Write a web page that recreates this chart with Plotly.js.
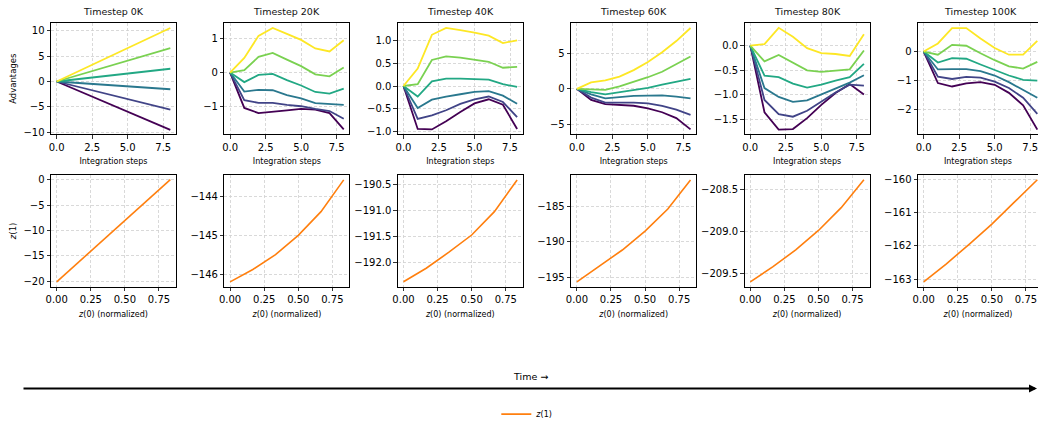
<!DOCTYPE html>
<html>
<head>
<meta charset="utf-8">
<script src="https://cdn.plot.ly/plotly-3.0.1.min.js"></script>
<style>html,body{margin:0;padding:0;background:#fff;overflow:hidden}</style>
</head>
<body>
<div id="chart" style="width:1038px;height:429px"></div>
<script>
// ---- data ----
const timesteps = ["Timestep 0K", "Timestep 20K", "Timestep 40K", "Timestep 60K", "Timestep 80K", "Timestep 100K"];
const steps = [0, 1, 2, 3, 4, 5, 6, 7, 8];
const seriesColors = ["#440154", "#414487", "#2a788e", "#22a884", "#7ad151", "#fde725"];

// advantages per timestep, series ordered purple -> yellow
const adv0K = [
  [0, -1.2, -2.4, -3.55, -4.75, -5.95, -7.1, -8.3, -9.5],
  [0, -0.7, -1.4, -2.05, -2.75, -3.45, -4.1, -4.8, -5.5],
  [0, -0.2, -0.4, -0.55, -0.75, -0.95, -1.15, -1.35, -1.52],
  [0, 0.3, 0.6, 0.9, 1.25, 1.55, 1.9, 2.2, 2.5],
  [0, 0.8, 1.6, 2.4, 3.25, 4.1, 4.9, 5.7, 6.55],
  [0, 1.3, 2.6, 3.9, 5.2, 6.55, 7.9, 9.2, 10.5]
];
const adv20K = [
  [0, -1.04, -1.19, -1.14, -1.11, -1.07, -1.09, -1.19, -1.67],
  [0, -0.81, -0.89, -0.89, -0.95, -0.99, -1.07, -1.13, -1.36],
  [0, -0.56, -0.51, -0.52, -0.66, -0.76, -0.90, -0.93, -0.95],
  [0, -0.28, -0.07, -0.04, -0.22, -0.38, -0.57, -0.62, -0.47],
  [0, 0.07, 0.46, 0.58, 0.38, 0.19, -0.05, -0.11, 0.15],
  [0, 0.43, 1.08, 1.31, 1.14, 0.96, 0.71, 0.62, 0.95]
];
const adv40K = [
  [0, -0.94, -0.95, -0.77, -0.57, -0.38, -0.29, -0.41, -0.94],
  [0, -0.72, -0.64, -0.53, -0.39, -0.29, -0.23, -0.35, -0.68],
  [0, -0.48, -0.30, -0.23, -0.18, -0.13, -0.11, -0.21, -0.39],
  [0, -0.23, 0.10, 0.16, 0.16, 0.15, 0.14, 0.04, -0.02],
  [0, 0.04, 0.57, 0.65, 0.62, 0.58, 0.53, 0.40, 0.42],
  [0, 0.38, 1.12, 1.27, 1.22, 1.17, 1.10, 0.94, 1.00]
];
const adv60K = [
  [0, -1.57, -2.17, -2.26, -2.40, -2.76, -3.32, -4.15, -5.76],
  [0, -1.24, -1.94, -1.89, -1.94, -2.07, -2.40, -2.95, -3.69],
  [0, -0.78, -1.34, -1.15, -1.00, -0.97, -0.92, -1.10, -1.34],
  [0, -0.46, -0.78, -0.46, -0.18, 0.14, 0.60, 1.06, 1.43],
  [0, -0.05, -0.14, 0.37, 0.97, 1.66, 2.44, 3.50, 4.60],
  [0, 0.92, 1.20, 1.75, 2.67, 3.82, 5.20, 6.80, 8.66]
];
const adv80K = [
  [0, -1.35, -1.70, -1.69, -1.47, -1.20, -0.96, -0.78, -0.99],
  [0, -1.10, -1.39, -1.44, -1.32, -1.14, -0.95, -0.79, -0.81],
  [0, -0.86, -1.04, -1.14, -1.11, -0.99, -0.86, -0.75, -0.60],
  [0, -0.61, -0.64, -0.77, -0.85, -0.79, -0.71, -0.64, -0.37],
  [0, -0.32, -0.19, -0.35, -0.50, -0.53, -0.51, -0.48, -0.10],
  [0, 0.03, 0.36, 0.18, -0.05, -0.15, -0.17, -0.21, 0.23]
];
const adv100K = [
  [0, -1.09, -1.21, -1.10, -1.06, -1.15, -1.43, -1.86, -2.70],
  [0, -0.87, -0.95, -0.88, -0.90, -1.04, -1.26, -1.60, -2.16],
  [0, -0.62, -0.61, -0.61, -0.68, -0.83, -1.06, -1.32, -1.60],
  [0, -0.38, -0.23, -0.25, -0.45, -0.64, -0.83, -0.98, -1.01],
  [0, -0.11, 0.23, 0.20, -0.06, -0.30, -0.51, -0.59, -0.36],
  [0, 0.28, 0.81, 0.81, 0.45, 0.12, -0.11, -0.11, 0.37]
];
const advantages = [adv0K, adv20K, adv40K, adv60K, adv80K, adv100K];

const z0 = [0, 0.1667, 0.3333, 0.5, 0.6667, 0.8333];
const z1_0K = [-20.1, -16.1, -12.05, -8.0, -4.0, 0.0];
const z1_20K = [-146.2, -145.88, -145.5, -145.0, -144.39, -143.57];
const z1_40K = [-192.38, -192.12, -191.81, -191.48, -191.03, -190.42];
const z1_60K = [-195.64, -193.45, -191.16, -188.5, -185.4, -181.3];
const z1_80K = [-209.6, -209.42, -209.22, -208.99, -208.72, -208.39];
const z1_100K = [-163.09, -162.54, -161.95, -161.34, -160.67, -160.0];
const z1 = [z1_0K, z1_20K, z1_40K, z1_60K, z1_80K, z1_100K];

// ---- layout helpers ----
const W = 1038, H = 429;
const topRanges = [[-10.4, 11.5], [-1.82, 1.46], [-1.06, 1.38], [-6.48, 9.38], [-1.80, 0.46], [-2.87, 0.99]];
const topDticks = [5, 1, 0.5, 5, 0.5, 1];
const topFormats = ["d", "d", ".1f", "d", ".1f", "d"];
const botRanges = [[-21.1, 0.95], [-146.33, -143.44], [-192.48, -190.32], [-196.36, -180.58], [-209.66, -208.33], [-163.24, -159.85]];
const botDticks = [5, 1, 0.5, 5, 0.5, 1];
const botFormats = ["d", "d", ".1f", "d", ".1f", "d"];

const font = "DejaVu Sans, Arial, sans-serif";
const common = {
  showline: true, mirror: true, linecolor: "#000", linewidth: 1,
  ticks: "outside", ticklen: 3.5, tickwidth: 0.8, tickcolor: "#000",
  showgrid: true, gridcolor: "#cfcfcf", griddash: "3px,2px", gridwidth: 0.8,
  zeroline: false, tickfont: {family: font, size: 10, color: "#000"},
  ticklabeloverflow: "allow", fixedrange: true
};

const traces = [];
const layout = {
  width: W, height: H, autosize: false,
  margin: {l: 0, r: 0, t: 0, b: 0},
  paper_bgcolor: "#fff", plot_bgcolor: "#fff",
  font: {family: font, color: "#000"},
  showlegend: true,
  legend: {x: 0.508, xanchor: "center", y: 1 - 421 / H, yanchor: "middle",
           orientation: "h", font: {family: font, size: 8}, bgcolor: "rgba(0,0,0,0)"},
  annotations: [], shapes: []
};

const pw = 125, step = 173.4, left0 = 51;
const topY = [1 - 136.7 / H, 1 - 23.3 / H];
const botY = [1 - 291.7 / H, 1 - 177.7 / H];

for (let k = 0; k < 6; k++) {
  const L = left0 + k * step;
  let R = L + pw;
  let xr = [-0.4, 8.4], zr = [-0.0417, 0.875];
  if (R > W) {
    const frac = (W - L) / pw;
    xr = [-0.4, -0.4 + 8.8 * frac];
    zr = [-0.0417, -0.0417 + 0.9167 * frac];
    R = W;
  }
  const dom = [L / W, R / W];
  const ti = k + 1, bi = k + 7;
  const tx = "xaxis" + (ti === 1 ? "" : ti), ty = "yaxis" + (ti === 1 ? "" : ti);
  const bx = "xaxis" + bi, by = "yaxis" + bi;

  layout[tx] = Object.assign({}, common, {
    domain: dom, anchor: "y" + (ti === 1 ? "" : ti), range: xr,
    tickvals: [0, 2.5, 5, 7.5], tickformat: ".1f",
    title: {text: "Integration steps", font: {family: font, size: 8}, standoff: 6}
  });
  layout[ty] = Object.assign({}, common, {
    domain: topY, anchor: "x" + (ti === 1 ? "" : ti), range: topRanges[k],
    dtick: topDticks[k], tickformat: topFormats[k],
    title: k === 0 ? {text: "Advantages", font: {family: font, size: 8.5}, standoff: 5} : {text: ""}
  });
  layout[bx] = Object.assign({}, common, {
    domain: dom, anchor: "y" + bi, range: zr,
    tickvals: [0, 0.25, 0.5, 0.75], tickformat: ".2f",
    title: {text: "<i>z</i>(0) (normalized)", font: {family: font, size: 8}, standoff: 6}
  });
  layout[by] = Object.assign({}, common, {
    domain: botY, anchor: "x" + bi, range: botRanges[k],
    dtick: botDticks[k], tickformat: botFormats[k],
    title: k === 0 ? {text: "<i>z</i>(1)", font: {family: font, size: 8.5}, standoff: 5} : {text: ""}
  });

  const data = advantages[k];
  for (let s = 0; s < data.length; s++) {
    traces.push({
      type: "scatter", mode: "lines", x: steps, y: data[s],
      xaxis: "x" + (ti === 1 ? "" : ti), yaxis: "y" + (ti === 1 ? "" : ti),
      line: {color: seriesColors[s], width: 1.8}, showlegend: false, hoverinfo: "skip"
    });
  }
  traces.push({
    type: "scatter", mode: "lines", x: z0, y: z1[k],
    xaxis: "x" + bi, yaxis: "y" + bi, name: "<i>z</i>(1)",
    line: {color: "#ff7f0e", width: 1.6}, showlegend: k === 0, hoverinfo: "skip"
  });

  layout.annotations.push({
    text: timesteps[k], xref: "paper", yref: "paper",
    x: (L + pw / 2) / W, y: 1 - 12 / H, xanchor: "center", yanchor: "middle",
    showarrow: false, font: {family: font, size: 9.5, color: "#111", weight: "normal"}
  });
}

// time arrow
layout.annotations.push({
  text: "", xref: "paper", yref: "paper", x: 1037 / W, y: 1 - 395 / H,
  ax: -1015, ay: 0, axref: "pixel", ayref: "pixel",
  showarrow: true, arrowhead: 2, arrowsize: 0.8, arrowwidth: 2, arrowcolor: "#000"
});
layout.annotations.push({
  text: "Time →", xref: "paper", yref: "paper", x: 530 / W, y: 1 - 383 / H,
  xanchor: "center", yanchor: "middle", showarrow: false,
  font: {family: font, size: 9.5, color: "#000"}
});

Plotly.newPlot("chart", traces, layout, {displayModeBar: false, staticPlot: true});
</script>
</body>
</html>
